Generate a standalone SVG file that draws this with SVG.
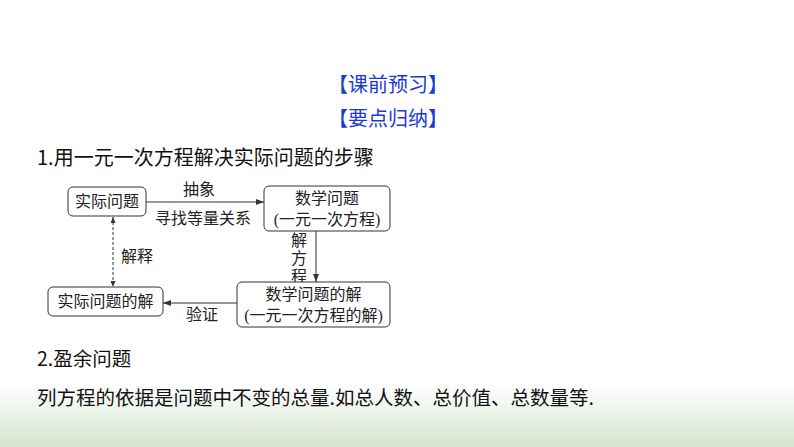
<svg xmlns="http://www.w3.org/2000/svg" width="794" height="447" viewBox="0 0 794 447">
<defs>
<linearGradient id="bg" x1="0" y1="0" x2="0" y2="1">
<stop offset="0" stop-color="#ffffff"/>
<stop offset="1" stop-color="#d3e4cf"/>
</linearGradient>
<marker id="arr" viewBox="0 0 8 6" refX="8" refY="3" markerWidth="8" markerHeight="6" orient="auto" markerUnits="userSpaceOnUse">
<path d="M0,0 L8,3 L0,6 Z" fill="#333"/>
</marker>
<marker id="arrs" viewBox="0 0 6 5" refX="6" refY="2.5" markerWidth="6" markerHeight="5" orient="auto-start-reverse" markerUnits="userSpaceOnUse">
<path d="M0,0 L6,2.5 L0,5 Z" fill="#333"/>
</marker>
</defs>
<style>
.head{font-family:"Noto Sans CJK SC","Noto Sans",sans-serif;font-size:20px;fill:#1a3ad6;text-anchor:middle;dominant-baseline:central}
.main{font-family:"Noto Sans CJK SC","Noto Sans",sans-serif;font-size:19.5px;fill:#111;dominant-baseline:central}
.title{font-size:20px}
.dg{font-family:"Liberation Serif","Noto Sans CJK SC",serif;font-size:16px;fill:#222;text-anchor:middle;dominant-baseline:central}
.box{fill:#fff;stroke:#333;stroke-width:1}
.ln{fill:none;stroke:#333;stroke-width:1}
</style>
<rect x="0" y="0" width="794" height="447" fill="#fff"/>
<rect x="0" y="385" width="794" height="62" fill="url(#bg)"/>
<text class="head" x="388" y="83">【课前预习】</text>
<text class="head" x="388" y="117">【要点归纳】</text>
<text class="main title" x="37" y="156">1.用一元一次方程解决实际问题的步骤</text>
<text class="main" x="37" y="357">2.盈余问题</text>
<text class="main" x="37" y="396">列方程的依据是问题中不变的总量.如总人数、总价值、总数量等.</text>
<g id="connectors">
<line class="ln" x1="146" y1="202" x2="264" y2="202" marker-end="url(#arr)"/>
<text class="dg" x="199" y="189">抽象</text>
<text class="dg" x="203" y="218">寻找等量关系</text>
<line class="ln" x1="316" y1="231" x2="316" y2="282" marker-end="url(#arr)"/>
<text class="dg" x="299" y="240">解</text>
<text class="dg" x="299" y="258">方</text>
<text class="dg" x="299" y="276">程</text>
<line class="ln" x1="237" y1="303" x2="163" y2="303" marker-end="url(#arr)"/>
<text class="dg" x="202" y="314">验证</text>
<line class="ln" x1="113" y1="217" x2="113" y2="287" stroke-dasharray="3,2" marker-start="url(#arrs)" marker-end="url(#arrs)"/>
<text class="dg" x="137" y="256">解释</text>
</g>
<g id="n1">
<rect class="box" x="68" y="187" width="78" height="29" rx="5"/>
<text class="dg" x="107" y="201.5">实际问题</text>
</g>
<g id="n2">
<rect class="box" x="264" y="186" width="126" height="45" rx="5"/>
<text class="dg" x="327" y="198">数学问题</text>
<text class="dg" x="327" y="219">(一元一次方程)</text>
</g>
<g id="n3">
<rect class="box" x="48" y="287" width="115" height="29" rx="5"/>
<text class="dg" x="105.5" y="301.5">实际问题的解</text>
</g>
<g id="n4">
<rect class="box" x="237" y="282" width="153" height="45" rx="5"/>
<text class="dg" x="313.5" y="294">数学问题的解</text>
<text class="dg" x="313.5" y="315">(一元一次方程的解)</text>
</g>
</svg>
